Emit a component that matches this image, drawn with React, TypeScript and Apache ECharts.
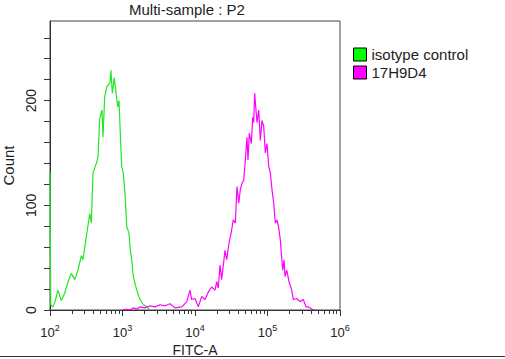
import React, { useEffect, useRef } from "react";
import * as echarts from "echarts";

const chartTitle = "Multi-sample : P2";
const xAxisName = "FITC-A";
const yAxisName = "Count";
const seriesNames = ["isotype control", "17H9D4"];
const decadeExponents = [2, 3, 4, 5, 6];
const minorMultipliers = [2, 3, 4, 5, 6, 7, 8, 9];
const yTickValues = [0, 20, 40, 60, 80, 100, 120, 140, 160, 180, 200, 220, 240, 260];
const yLabelValues = [0, 100, 200];

// log10(FITC-A) positions and counts
const isotypeLog = [
  2.0, 2.01, 2.041, 2.069, 2.11, 2.156, 2.203, 2.248, 2.294, 2.341, 2.386, 2.432, 2.455,
  2.501, 2.548, 2.57, 2.593, 2.639, 2.662, 2.686, 2.717, 2.731, 2.754, 2.782, 2.828, 2.841,
  2.859, 2.887, 2.906, 2.934, 2.952, 2.966, 2.989, 3.011, 3.034, 3.058, 3.09, 3.103, 3.127,
  3.149, 3.196, 3.241, 3.287, 3.334, 3.379,
];
const isotypeCount = [
  131, 5, 3, 8, 19, 9, 16, 27, 35, 29, 38, 52, 48,
  70, 92, 83, 131, 140, 146, 183, 191, 165, 203, 213, 217, 229,
  207, 222, 210, 194, 200, 175, 137, 131, 112, 80, 73, 60, 48,
  32, 19, 10, 5, 3, 0,
];

const h17Log = [
  3.0, 3.05, 3.1, 3.15, 3.2, 3.241, 3.31, 3.379, 3.448, 3.517, 3.586, 3.655, 3.724, 3.817,
  3.834, 3.886, 3.931, 3.954, 4.0, 4.046, 4.092, 4.138, 4.183, 4.23, 4.276, 4.299, 4.321,
  4.345, 4.368, 4.414, 4.437, 4.469, 4.497, 4.528, 4.556, 4.579, 4.603, 4.625, 4.648, 4.672,
  4.694, 4.717, 4.731, 4.749, 4.777, 4.796, 4.81, 4.823, 4.841, 4.855, 4.879, 4.901, 4.924,
  4.948, 4.97, 4.993, 5.017, 5.039, 5.062, 5.086, 5.108, 5.131, 5.154, 5.177, 5.19, 5.21,
  5.228, 5.241, 5.265, 5.301, 5.334, 5.356, 5.403, 5.448, 5.494, 5.531, 5.563, 5.61, 5.655,
];
const h17Count = [
  0, 1, 0, 2, 1, 3, 2, 4, 3, 5, 4, 6, 2, 3,
  4, 8, 19, 10, 11, 3, 13, 10, 17, 22, 19, 27, 21,
  43, 29, 57, 48, 64, 73, 86, 83, 118, 102, 115, 121, 124,
  143, 165, 143, 169, 159, 184, 179, 207, 191, 179, 191, 162, 181,
  175, 150, 159, 137, 131, 115, 102, 83, 86, 79, 67, 55, 38,
  48, 32, 38, 26, 19, 10, 11, 8, 10, 3, 3, 1, 0,
];

const FONT = "Liberation Sans, Arial, sans-serif";

export default function App() {
  const ref = useRef<HTMLDivElement>(null);

  useEffect(() => {
    if (!ref.current) return;
    const chart = echarts.init(ref.current, undefined, { renderer: "svg" });

    const minorTicks: number[] = [];
    decadeExponents.slice(0, -1).forEach((e) =>
      minorMultipliers.forEach((m) => minorTicks.push(e + Math.log10(m)))
    );

    const isoData = isotypeLog.map((x, i) => [x, isotypeCount[i]]);
    const h17Data = h17Log.map((x, i) => [x, h17Count[i]]);

    chart.setOption({
      animation: false,
      backgroundColor: "#ffffff",
      title: {
        text: chartTitle,
        left: 129,
        top: 2,
        padding: 0,
        textStyle: { fontSize: 15, fontWeight: "normal", color: "#222", fontFamily: FONT },
      },
      legend: {
        orient: "vertical",
        left: 353,
        top: 47,
        padding: 0,
        itemWidth: 13,
        itemHeight: 13,
        itemGap: 3,
        icon: "rect",
        itemStyle: { borderColor: "#000", borderWidth: 1 },
        textStyle: { fontSize: 15, color: "#222", fontFamily: FONT, lineHeight: 13 },
        data: seriesNames,
      },
      grid: {
        left: 50,
        top: 21,
        width: 290,
        height: 289,
        outerBoundsMode: "none",
        containLabel: false,
        show: true,
        borderColor: "#444",
        borderWidth: 1,
        backgroundColor: "transparent",
      },
      xAxis: [
        {
          type: "value",
          min: 2,
          max: 6,
          position: "bottom",
          name: xAxisName,
          nameLocation: "middle",
          nameGap: 33,
          nameTextStyle: { fontSize: 14, color: "#222", fontFamily: FONT },
          axisLine: { show: true, lineStyle: { color: "#333", width: 1 } },
          axisTick: { show: true, customValues: minorTicks, length: 4, lineStyle: { color: "#333" } },
          axisLabel: {
            customValues: decadeExponents,
            margin: 13,
            color: "#222",
            fontFamily: FONT,
            fontSize: 13,
            formatter: (v: number) => `{b|10}{s|${v}}`,
            rich: {
              b: { fontSize: 13, fontFamily: FONT, color: "#222" },
              s: { fontSize: 9, fontFamily: FONT, color: "#222", padding: [0, 0, 9, 0] },
            },
          },
          splitLine: { show: false },
        },
        {
          type: "value",
          min: 2,
          max: 6,
          position: "bottom",
          axisLine: { show: false },
          axisTick: { show: true, customValues: decadeExponents, length: 6, lineStyle: { color: "#333" } },
          axisLabel: { show: false },
          splitLine: { show: false },
        },
      ],
      yAxis: {
        type: "value",
        min: 0,
        max: 276,
        name: yAxisName,
        nameLocation: "middle",
        nameRotate: 90,
        nameGap: 32,
        nameTextStyle: { fontSize: 15, color: "#222", fontFamily: FONT },
        axisLine: { show: true, lineStyle: { color: "#333", width: 1 } },
        axisTick: { show: true, customValues: yTickValues, length: 6, lineStyle: { color: "#333" } },
        axisLabel: {
          customValues: yLabelValues,
          rotate: 90,
          margin: 12,
          fontSize: 14,
          color: "#222",
          fontFamily: FONT,
        },
        splitLine: { show: false },
      },
      series: [
        {
          name: seriesNames[0],
          type: "line",
          data: isoData,
          showSymbol: false,
          symbol: "none",
          lineStyle: { color: "#22e622", width: 1.2 },
          itemStyle: { color: "#00ff00" },
          z: 3,
        },
        {
          name: seriesNames[1],
          type: "line",
          data: h17Data,
          showSymbol: false,
          symbol: "none",
          lineStyle: { color: "#ff00ff", width: 1.2 },
          itemStyle: { color: "#ff00ff" },
          z: 3,
        },
      ],
      graphic: [
        {
          type: "line",
          shape: { x1: 0, y1: 356.5, x2: 505, y2: 356.5 },
          style: { stroke: "#333", lineWidth: 1 },
        },
      ],
    });

    return () => chart.dispose();
  }, []);

  return (
    <div
      ref={ref}
      style={{ position: "absolute", left: 0, top: 0, width: 505, height: 359 }}
    />
  );
}
